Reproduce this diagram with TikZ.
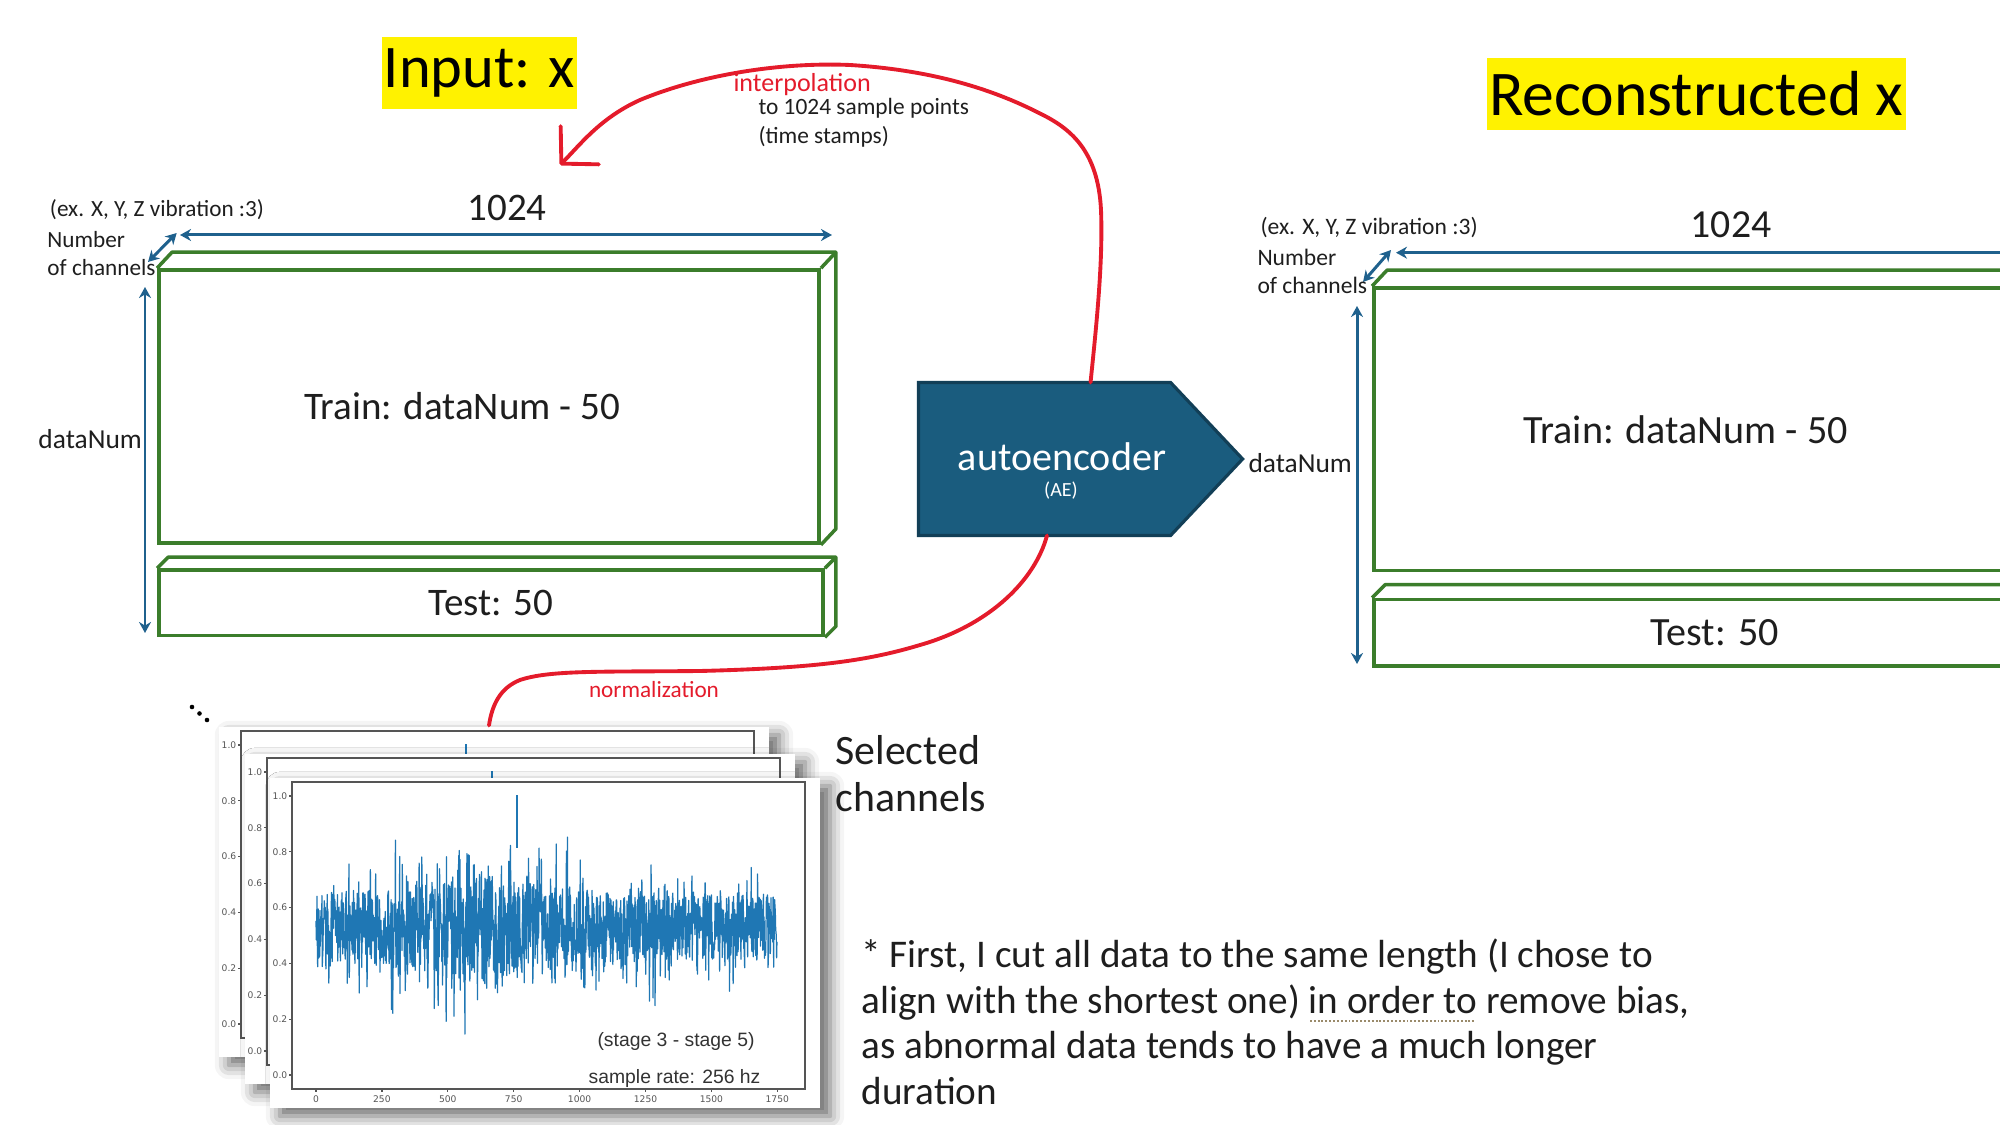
\documentclass[tikz,border=0pt]{standalone}
\usepackage{fontspec}
\setmainfont{Carlito}
\newfontfamily\chartfont{Liberation Sans}
\newfontfamily\tickfont{DejaVu Sans}
\usetikzlibrary{arrows.meta,shadows.blur}

\definecolor{dimblue}{HTML}{1F618D}
\definecolor{boxgreen}{HTML}{3B7D2B}
\definecolor{aefill}{HTML}{1A5C7E}
\definecolor{aeedge}{HTML}{123F57}
\definecolor{penred}{HTML}{E41B2B}
\definecolor{sigblue}{HTML}{1F77B4}
\definecolor{axisgray}{HTML}{555555}
\definecolor{inktext}{HTML}{1E1E1E}
\definecolor{checkdot}{HTML}{9A8A6A}

\newcommand{\fsz}[2]{\fontsize{#1}{#2}\selectfont}
\newcommand{\dotul}[1]{\setbox0\hbox{#1}\rlap{\raisebox{-2.4pt}[0pt][0pt]{\hbox to \wd0{\color{checkdot}\leaders\hbox to 1.1pt{\hss\rule{0.55pt}{0.55pt}\hss}\hfill}}}#1}

\tikzset{every picture/.style={line width=0.85pt}}

\begin{document}
\begin{tikzpicture}[x=0.01cm, y=-0.01cm,
  titlebox/.style={fill=yellow, inner xsep=0.6pt, minimum height=0.72cm, text=black},
  databox/.style={draw=boxgreen, line width=1pt, fill=white},
  boxedge/.style={draw=boxgreen, line width=1pt, line join=round},
  boxtext/.style={text=inktext, font=\fsz{11.1}{13}},
  dimarrow/.style={draw=dimblue, line width=0.85pt, {Stealth[length=1.1mm,width=1.2mm]}-{Stealth[length=1.1mm,width=1.2mm]}},
  smalltext/.style={text=inktext, font=\fsz{6.6}{7.7}, align=left},
  sidetext/.style={text=inktext, font=\fsz{7.8}{9}},
  penline/.style={draw=penred, line width=1.1pt, line cap=round, line join=round},
  pentext/.style={text=penred, font=\fsz{7.4}{9}},
  chartpaper/.style={fill=white, minimum width=5.5cm, minimum height=3.3cm,
    blur shadow={shadow xshift=0.1cm, shadow yshift=-0.08cm, shadow blur radius=0.14cm, shadow opacity=60}},
  axisline/.style={draw=axisgray, line width=0.35pt},
  ticklbl/.style={font=\tickfont\fsz{2.6}{3}, text=axisgray},
  charttext/.style={font=\chartfont\fsz{5.5}{6.5}, text=black!80},
  sigline/.style={draw=sigblue, line width=0.35pt, line join=round},
  aebody/.style={minimum width=2.49cm, minimum height=1.5cm},
  aeshape/.style={fill=aefill, draw=aeedge, line width=0.9pt, line join=miter},
  aetext/.style={text=white, font=\fsz{11.4}{13}},
  ]
\tikzstyle{every node}+=[inner sep=0pt]
\useasboundingbox (0,0) rectangle (2000,1125);

% titles
\node[titlebox, font=\fsz{17.2}{20}] (inputttl) at (479.5,72.6) {Input: x};
\node[titlebox, font=\fsz{18.1}{21}] (reconttl) at (1696.3,94) {Reconstructed x};

% input block
\node[databox, minimum width=6.60cm, minimum height=2.73cm] (trainin) at (489,406.5) {};
\draw[boxedge] (trainin.north west) -- ++(15,-16) -- ([xshift=0.15cm,yshift=0.16cm]trainin.north east)
  -- ([xshift=0.15cm,yshift=0.16cm]trainin.south east) -- (trainin.south east);
\draw[boxedge] (trainin.north east) -- ++(15,-16);
\node[boxtext] (traininlbl) at (462,406) {Train: dataNum - 50};
\node[databox, minimum width=6.64cm, minimum height=0.655cm] (testin) at (491,602.75) {};
\draw[boxedge] (testin.north west) -- ++(11,-11) -- ([xshift=0.11cm,yshift=0.11cm]testin.north east)
  -- ([xshift=0.11cm,yshift=0.11cm]testin.south east) -- (testin.south east);
\draw[boxedge] (testin.north east) -- ++(11,-11);
\node[boxtext] (testinlbl) at (491,603) {Test: 50};

\coordinate (lenina) at (180,235);
\coordinate (leninb) at (832,235);
\coordinate (chinina) at (148,262);
\coordinate (chininb) at (176.7,233);
\coordinate (numina) at (145,287);
\coordinate (numinb) at (145,633);
\draw[dimarrow] (lenina) -- (leninb);
\draw[dimarrow] (chinina) -- (chininb);
\draw[dimarrow] (numina) -- (numinb);
\node[boxtext, font=\fsz{11.1}{13}] (lenin) at (507,208) {1024};
\node[smalltext, anchor=west] (exin) at (48.5,210) {(ex. X, Y, Z vibration :3)};
\node[smalltext, anchor=west] (chin) at (46,253.5) {Number\\of channels};
\node[sidetext, anchor=west] (numin) at (37,439) {dataNum};

% reconstructed block
\node[databox, minimum width=6.80cm, minimum height=2.825cm] (trainout) at (1714,429.25) {};
\draw[boxedge] (trainout.north west) -- ++(15,-16) -- ([xshift=0.15cm,yshift=0.16cm]trainout.north east);
\node[boxtext, font=\fsz{11.4}{13}] (trainoutlbl) at (1685.7,429.5) {Train: dataNum - 50};
\node[databox, minimum width=6.80cm, minimum height=0.665cm] (testout) at (1714,632.75) {};
\draw[boxedge] (testout.north west) -- ++(13,-13) -- ([xshift=0.13cm,yshift=0.13cm]testout.north east);
\node[boxtext, font=\fsz{11.4}{13}] (testoutlbl) at (1714.8,633) {Test: 50};

\coordinate (lenouta) at (1396,252.7);
\coordinate (lenoutb) at (2068,252.7);
\coordinate (chouta) at (1363,282);
\coordinate (choutb) at (1391,250);
\coordinate (numouta) at (1357,306);
\coordinate (numoutb) at (1357,664);
\draw[dimarrow] (lenouta) -- (lenoutb);
\draw[dimarrow] (chouta) -- (choutb);
\draw[dimarrow] (numouta) -- (numoutb);
\node[boxtext, font=\fsz{11.3}{13}] (lenout) at (1731,225) {1024};
\node[smalltext, font=\fsz{6.7}{7.9}, anchor=west] (exout) at (1259,228) {(ex. X, Y, Z vibration :3)};
\node[smalltext, font=\fsz{6.7}{7.9}, anchor=west] (chout) at (1256,271.6) {Number\\of channels};
\node[sidetext, anchor=west] (numout) at (1247,463) {dataNum};

% autoencoder
\node[aebody] (ae) at (1044.5,459) {};
\filldraw[aeshape] (ae.north west) -- (ae.north east) -- ([xshift=0.72cm]ae.east)
  -- (ae.south east) -- (ae.south west) -- cycle;
\node[aetext] (aename) at (1062,457) {autoencoder};
\node[aetext, font=\fsz{5.7}{7}] (aeabbr) at (1061,491) {(AE)};

% selected channels (charts)
\foreach \cx/\cy in {192/707, 199.5/713.5, 207/720}
  \fill[black] (\cx,\cy) circle (2.3);
\foreach \n/\px/\py in {chartback/219/727, chartmid/245/754, chartfront/270/778} {
  \node[chartpaper] (\n) at (\px+275,\py+165) {};
  \draw[axisline] (\px+22,\py+4) rectangle (\px+535,\py+311);
  \foreach \v [count=\j from 0] in {1.0,0.8,0.6,0.4,0.2,0.0} {
    \draw[axisline] (\px+22,\py+18+\j*55.8) -- ++(-3,0);
    \node[ticklbl] (\n-y\j) at (\px+10,\py+18+\j*55.8) {\v};
  }
  \draw[sigline, line width=0.5pt] (\px+247,\py+17) -- (\px+247,\py+70);
}
\foreach \v [count=\j from 0] in {0,250,500,750,1000,1250,1500,1750} {
  \draw[axisline] (316+\j*65.9,1089) -- ++(0,3);
  \node[ticklbl] (xtick\j) at (316+\j*65.9,1099) {\v};
}
\pgfmathsetseed{42}
\draw[sigline] plot[domain=0:1750, samples=1400, variable=\t]
  ({316+\t*0.2634}, {1075-279*(0.53+(0.15+0.1/(1+((\t-600)/350)^2))*rand*(0.7+1.0*rnd^6))});
\node[charttext] (stagelbl) at (676,1041) {(stage 3 - stage 5)};
\node[charttext] (ratelbl) at (674.5,1078) {sample rate: 256 hz};
\node[text=inktext, font=\fsz{11.9}{13.4}, align=left, anchor=west] (selch) at (834,773.5) {Selected\\channels};

% red pen strokes
\coordinate (interpend) at (560,165);
\draw[penline, -{Straight Barb[length=0.26cm,width=0.54cm,round]}] ([xshift=0.46cm]ae.north)
  .. controls (1097,320) and (1103,260) .. (1101,210)
  .. controls (1098,150) and (1070,128) .. (1039,113)
  .. controls (990,88) and (930,70) .. (850,65)
  .. controls (780,62) and (700,75) .. (640,100)
  .. controls (600,118) and (580,145) .. (interpend);
\node[pentext, anchor=west] (interplbl) at (732,85) {interpolation};
\node[smalltext, font=\fsz{6.65}{8.25}, anchor=west] (interpnote) at (757,122.5) {to 1024 sample points\\(time stamps)};

\draw[penline] ([xshift=0.025cm]ae.south)
  .. controls (1035,580) and (990,625) .. (920,645)
  .. controls (870,660) and (820,668) .. (700,671)
  .. controls (600,672) and (550,670) .. (520,680)
  .. controls (500,688) and (492,705) .. ([xshift=-0.05cm]chartback.north);
\node[pentext, font=\fsz{6.6}{8}] (normlbl) at (654,689.5) {normalization};

% note
\node[text=inktext, font=\fsz{11.15}{12.95}, align=left, anchor=west] (note) at (860,1022)
  {* First, I cut all data to the same length (I chose to\\
   align with the shortest one) \dotul{in order to} remove bias,\\
   as abnormal data tends to have a much longer\\
   duration};
\end{tikzpicture}
\end{document}
